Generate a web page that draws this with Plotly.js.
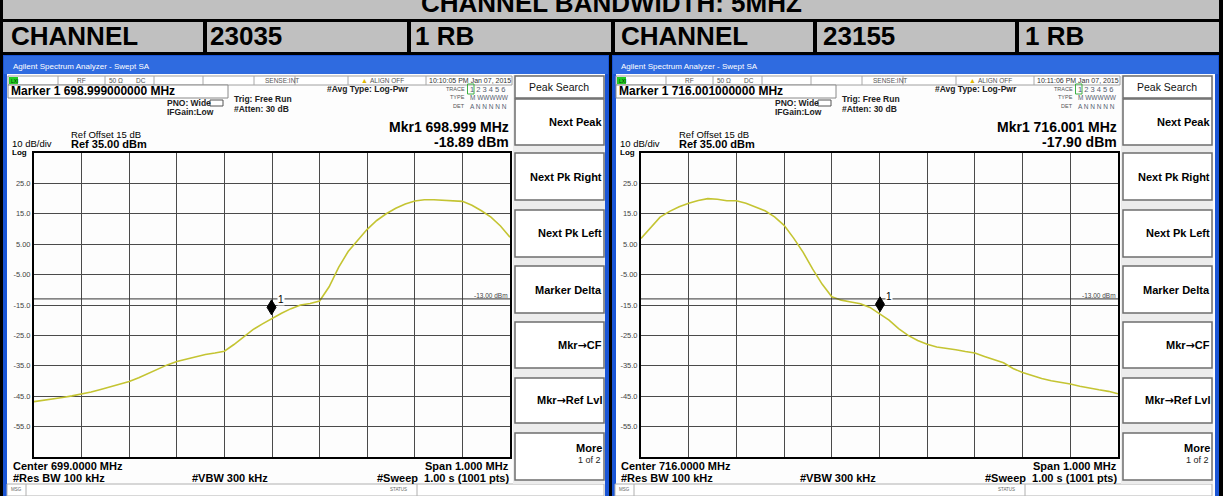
<!DOCTYPE html>
<html>
<head>
<meta charset="utf-8">
<script src="https://cdn.plot.ly/plotly-3.0.1.min.js"></script>
<style>html,body{margin:0;padding:0;background:#000;}#chart{width:1223px;height:496px;}</style>
</head>
<body>
<div id="chart"></div>
<script>
// ---------------- DATA ----------------
const HEADER_TITLE = "CHANNEL BANDWIDTH: 5MHZ";
const HEADER_CELLS_LEFT = ["CHANNEL", "23035", "1 RB"];
const HEADER_CELLS_RIGHT = ["CHANNEL", "23155", "1 RB"];

const CENTER_MHZ = [699.0, 716.0];
const SPAN_MHZ = 1.0;
const REF_LEVEL_DBM = 35;
const DB_PER_DIV = 10;
const DISPLAY_LINE_DBM = -13;

// sweep offsets from centre (MHz)
const SWEEP_OFFSETS_MHZ = [-0.50,-0.48,-0.46,-0.44,-0.42,-0.40,-0.38,-0.36,-0.34,-0.32,
  -0.30,-0.28,-0.26,-0.24,-0.22,-0.20,-0.18,-0.16,-0.14,-0.12,
  -0.10,-0.08,-0.06,-0.04,-0.02,0.00,0.02,0.04,0.06,0.08,
  0.10,0.12,0.14,0.16,0.18,0.20,0.22,0.24,0.26,0.28,
  0.30,0.32,0.34,0.36,0.38,0.40,0.42,0.44,0.46,0.48,0.50];

const LEFT_TRACE_DBM = [-46.8,-46.4,-45.9,-45.4,-44.9,-44.3,-43.6,-42.8,-42.0,-41.2,
  -40.2,-38.9,-37.5,-36.0,-34.7,-33.6,-32.8,-32.0,-31.3,-30.8,
  -30.2,-28.0,-25.6,-23.1,-21.2,-19.4,-17.7,-16.2,-15.0,-14.5,
  -13.7,-9.0,-2.6,2.6,6.2,9.9,12.8,15.0,16.8,18.2,
  19.2,19.6,19.6,19.4,19.4,19.1,17.8,16.0,13.9,11.0,7.3];

const RIGHT_TRACE_DBM = [6.9,10.5,13.9,15.8,17.3,18.5,19.4,20.0,19.8,19.3,
  19.3,18.5,17.3,16.0,14.0,11.2,7.0,2.3,-3.2,-8.2,
  -12.3,-13.4,-14.0,-14.6,-15.8,-17.9,-20.0,-22.8,-25.0,-26.7,
  -27.9,-28.8,-29.2,-29.7,-30.3,-30.8,-31.9,-32.9,-34.0,-35.9,
  -37.2,-38.2,-39.2,-39.9,-40.4,-41.0,-41.7,-42.4,-42.9,-43.4,-44.2];

const MARKER_FREQ_MHZ = [698.999, 716.001];
const MARKER_LEVEL_DBM = [-18.89, -17.90];

const Y_TICK_VALS = [35, 25, 15, 5, -5, -15, -25, -35, -45, -55, -65];
const Y_TICK_TEXT = ["", "25.0", "15.0", "5.00", "-5.00", "-15.0", "-25.0", "-35.0", "-45.0", "-55.0", ""];

const MARKER_TITLE = ["Marker 1 698.999000000 MHz", "Marker 1 716.001000000 MHz"];
const MKR_FREQ_TEXT = ["Mkr1 698.999 MHz", "Mkr1 716.001 MHz"];
const MKR_LEVEL_TEXT = ["-18.89 dBm", "-17.90 dBm"];
const CENTER_TEXT = ["Center 699.0000 MHz", "Center 716.0000 MHz"];
const TIME_TEXT = ["10:10:05 PM Jan 07, 2015", "10:11:06 PM Jan 07, 2015"];
const SOFTKEYS = ["Next Peak", "Next Pk Right", "Next Pk Left", "Marker Delta", "Mkr\u2192CF", "Mkr\u2192Ref Lvl", "More"];

// ---------------- LAYOUT HELPERS ----------------
const W = 1223, H = 496;
const FONT = "Liberation Sans, Arial, sans-serif";
const X = v => v / W;
const Y = v => 1 - v / H;
const shapes = [], ann = [];
function rect(x0, y0, x1, y1, fill, line, lw) {
  shapes.push({type:'rect', xref:'paper', yref:'paper', x0:X(x0), x1:X(x1), y0:Y(y1), y1:Y(y0),
    fillcolor: fill || 'rgba(0,0,0,0)', line:{color: line || 'rgba(0,0,0,0)', width: lw || 0}, layer:'below'});
}
function seg(x0, y0, x1, y1, color, w) {
  shapes.push({type:'line', xref:'paper', yref:'paper', x0:X(x0), x1:X(x1), y0:Y(y0), y1:Y(y1),
    line:{color:color, width:w}, layer:'below'});
}
function T(x, y, txt, size, o) {
  o = o || {};
  ann.push({xref:'paper', yref:'paper', x:X(x), y:Y(y), text:txt, showarrow:false,
    xanchor:o.a || 'left', yanchor:'middle', borderpad:0,
    font:{family:o.f || FONT, size:size, color:o.c || '#000'}});
}
const arrowify = s => s.replace('\u2192', '<span style="font-family:DejaVu Sans">\u2192</span>');

// ---------------- HEADER TABLE ----------------
rect(3, -5, 1219, 19, '#c0c0c0');
const cellEdges = [[3,203],[207,407],[411,611],[615,813],[817,1015],[1019,1219]];
cellEdges.forEach(e => rect(e[0], 22, e[1], 52, '#c0c0c0'));
T(611.5, 3, '<b>' + HEADER_TITLE + '</b>', 26, {a:'center'});
const headerX = [10, 209, 414, 620, 822, 1024];
HEADER_CELLS_LEFT.concat(HEADER_CELLS_RIGHT).forEach((t, i) => T(headerX[i], 36, '<b>' + t + '</b>', 26));

// ---------------- ANALYZER WINDOWS ----------------
const WIN = [[3, 609], [612, 1219]];
function panel(k) {
  const o = k === 0 ? 0 : 608;
  const w0 = WIN[k][0], w1 = WIN[k][1];
  rect(w0, 55, w1, 496, '#1a55d6');
  rect(w0 + 1, 56, w1 - 1, 74, '#2f6be0');
  rect(w0 + 4, 74, w1 - 4, 496, '#fdfdfd');
  T(o + 12, 67, 'Agilent Spectrum Analyzer - Swept SA', 8, {c:'#ffffff'});
  // status row
  rect(o + 8, 76, o + 512, 85, '#ffffff', '#a0a0a0', 1);
  [58, 105, 154, 203, 254, 295, 348, 426].forEach(x => seg(o + x, 76, o + x, 85, '#a8a8a8', 1));
  rect(o + 9, 77, o + 18, 84, '#22cc22');
  T(o + 10, 80.5, 'LXI', 5, {c:'#003300'});
  T(o + 76, 80.5, 'RF', 6.5, {c:'#555'});
  T(o + 108, 80.5, '50 \u03A9', 6.5, {c:'#555'});
  T(o + 135, 80.5, 'DC', 6.5, {c:'#555'});
  T(o + 264, 80.5, 'SENSE:INT', 6.5, {c:'#555'});
  T(o + 360, 80.5, '\u25B2', 7, {c:'#e0b800'});
  T(o + 369, 80.5, 'ALIGN OFF', 6.5, {c:'#555'});
  T(o + 428, 80.5, TIME_TEXT[k], 7, {c:'#333'});
  // marker box
  rect(o + 8, 85, o + 228, 98, '#ffffff', '#8a8a8a', 1);
  T(o + 10, 91.5, '<b>' + MARKER_TITLE[k] + '</b>', 12);
  T(o + 166, 103, '<b>PNO: Wide</b>', 8.5, {c:'#222'});
  rect(o + 210, 100, o + 223, 106, '#ffffff', '#555', 1);
  T(o + 166, 112, '<b>IFGain:Low</b>', 8.5, {c:'#222'});
  T(o + 233, 99, '<b>Trig: Free Run</b>', 8.5, {c:'#222'});
  T(o + 233, 109, '<b>#Atten: 30 dB</b>', 8.5, {c:'#222'});
  T(o + 326, 89, '<b>#Avg Type: Log-Pwr</b>', 8.5, {c:'#222'});
  T(o + 466, 89, 'TRACE', 5.5, {a:'right', c:'#555'});
  T(o + 466, 97.5, 'TYPE', 5.5, {a:'right', c:'#555'});
  T(o + 466, 106, 'DET', 5.5, {a:'right', c:'#555'});
  rect(o + 467.5, 84, o + 474, 94, 'rgba(0,0,0,0)', '#3cb043', 1);
  T(o + 469, 89.5, '1 2 3 4 5 6', 7.5, {c:'#556070'});
  T(o + 469, 97.5, 'M WWWWW', 6.5, {c:'#556070'});
  T(o + 469, 106, 'A N N N N N', 6.5, {c:'#556070'});
  T(o + 510, 127, '<b>' + MKR_FREQ_TEXT[k] + '</b>', 14, {a:'right'});
  T(o + 510, 142, '<b>' + MKR_LEVEL_TEXT[k] + '</b>', 14, {a:'right'});
  T(o + 70, 134, 'Ref Offset 15 dB', 9.5);
  T(o + 70, 144, '<b>Ref ' + REF_LEVEL_DBM.toFixed(2) + ' dBm</b>', 11);
  T(o + 11, 143.5, DB_PER_DIV + ' dB/div', 9.5);
  T(o + 11, 152.5, '<b>Log</b>', 8);
  // bottom annotations
  T(o + 12, 466, '<b>' + CENTER_TEXT[k] + '</b>', 11);
  T(o + 12, 477.5, '<b>#Res BW 100 kHz</b>', 11);
  T(o + 191, 477.5, '<b>#VBW 300 kHz</b>', 11);
  T(o + 510, 466, '<b>Span ' + SPAN_MHZ.toFixed(3) + ' MHz</b>', 11, {a:'right'});
  T(o + 510, 477.5, '<b>#Sweep&nbsp;&nbsp;1.00 s (1001 pts)</b>', 11, {a:'right'});
  T(o + 509, 295.5, DISPLAY_LINE_DBM.toFixed(2) + ' dBm', 6.5, {a:'right', c:'#444'});
  // status bar
  rect(o + 7, 484, o + 604, 496, '#ffffff', '#b0b0b0', 1);
  seg(o + 26, 484, o + 26, 496, '#b0b0b0', 1);
  seg(o + 417, 484, o + 417, 496, '#b0b0b0', 1);
  T(o + 10, 489, 'MSG', 4.5, {c:'#666'});
  T(o + 389, 489, 'STATUS', 4.5, {c:'#666'});
  // softkeys
  rect(o + 513, 75, o + 605, 484, '#ececec');
  rect(o + 515, 76, o + 604, 98, '#ffffff', '#6e6e6e', 1.5);
  T(o + 559, 87, 'Peak Search', 10.5, {a:'center', c:'#111'});
  const boxes = [[99,145],[153,200],[210,257],[266,313],[322,368],[378,423],[433,480]];
  boxes.forEach((b, i) => {
    rect(o + 515, b[0], o + 604, b[1], '#ffffff', '#6e6e6e', 1.5);
    if (SOFTKEYS[i] === 'More') {
      T(o + 603, 448, '<b>More</b>', 11, {a:'right'});
      T(o + 602, 460, '1 of 2', 9, {a:'right', c:'#222'});
    } else {
      T(o + 603, (b[0] + b[1]) / 2, '<b>' + arrowify(SOFTKEYS[i]) + '</b>', 11, {a:'right'});
    }
  });
}
panel(0); panel(1);

// ---------------- PLOTS ----------------
const PLOT_X = [[34, 510], [641, 1118]];
const PLOT_Y = [153, 457];
const traces = [];
const layout = {
  width: W, height: H, margin:{l:0, r:0, t:0, b:0},
  paper_bgcolor:'#000', plot_bgcolor:'#ffffff', showlegend:false,
  shapes: shapes, annotations: ann
};
[LEFT_TRACE_DBM, RIGHT_TRACE_DBM].forEach((vals, k) => {
  const sfx = k === 0 ? '' : '2';
  const xs = SWEEP_OFFSETS_MHZ.map(d => CENTER_MHZ[k] + d);
  traces.push({type:'scatter', mode:'lines', x:xs, y:vals, xaxis:'x' + sfx, yaxis:'y' + sfx,
    line:{color:'#c4c432', width:1.6}, hoverinfo:'skip'});
  layout['xaxis' + sfx] = {domain:[X(PLOT_X[k][0]), X(PLOT_X[k][1])], anchor:'y' + sfx,
    range:[CENTER_MHZ[k] - SPAN_MHZ / 2, CENTER_MHZ[k] + SPAN_MHZ / 2],
    tick0: CENTER_MHZ[k] - SPAN_MHZ / 2, dtick: SPAN_MHZ / 10, showticklabels:false, ticks:'',
    showgrid:true, gridcolor:'#4a4a4a', gridwidth:1, zeroline:false,
    showline:true, mirror:true, linecolor:'#000', linewidth:2, fixedrange:true};
  layout['yaxis' + sfx] = {domain:[Y(PLOT_Y[1]), Y(PLOT_Y[0])], anchor:'x' + sfx,
    range:[REF_LEVEL_DBM - 10 * DB_PER_DIV, REF_LEVEL_DBM],
    tickmode:'array', tickvals:Y_TICK_VALS, ticktext:Y_TICK_TEXT, ticks:'',
    tickfont:{family:FONT, size:7.5, color:'#444'},
    showgrid:true, gridcolor:'#4a4a4a', gridwidth:1, zeroline:false,
    showline:true, mirror:true, linecolor:'#000', linewidth:2, fixedrange:true};
  // display line
  shapes.push({type:'line', xref:'x' + sfx + ' domain', yref:'y' + sfx, x0:0, x1:1,
    y0:DISPLAY_LINE_DBM, y1:DISPLAY_LINE_DBM, line:{color:'#333', width:1}, layer:'above'});
  // marker diamond
  shapes.push({type:'path', xref:'x' + sfx, yref:'y' + sfx, xsizemode:'pixel', ysizemode:'pixel',
    xanchor:MARKER_FREQ_MHZ[k], yanchor:MARKER_LEVEL_DBM[k],
    path:'M0,2 L4.5,9.5 L0,17 L-4.5,9.5 Z', fillcolor:'#000', line:{color:'#000', width:1}, layer:'above'});
  ann.push({xref:'x' + sfx, yref:'y' + sfx, x:MARKER_FREQ_MHZ[k], y:MARKER_LEVEL_DBM[k],
    text:'1', showarrow:false, xanchor:'left', yanchor:'middle', xshift:5, yshift:17,
    bgcolor:'#ffffff', borderpad:0, font:{family:FONT, size:10, color:'#000'}});
});

Plotly.newPlot('chart', traces, layout, {displayModeBar:false, staticPlot:true});
</script>
</body>
</html>
